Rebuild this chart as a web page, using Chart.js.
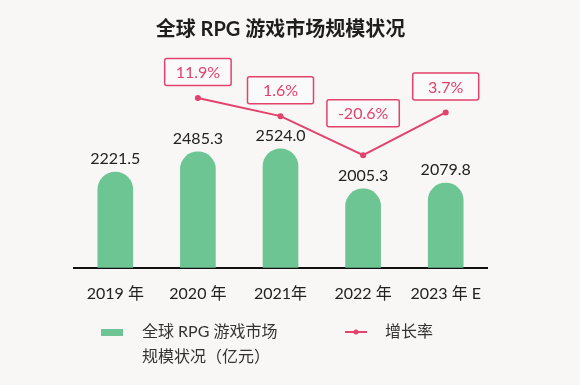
<!DOCTYPE html>
<html>
<head>
<meta charset="utf-8">
<script src="https://cdn.jsdelivr.net/npm/chart.js@4.4.0/dist/chart.umd.min.js"></script>
<style>
  html, body { margin: 0; padding: 0; background: #f8f7f5; }
  #wrap { width: 580px; height: 385px; }
</style>
</head>
<body>
<div id="wrap"><canvas id="chart" width="580" height="385"></canvas></div>
<script>
const years = ['2019 年', '2020 年', '2021年', '2022 年', '2023 年 E'];
const marketSize = [2221.5, 2485.3, 2524.0, 2005.3, 2079.8];
const growthRate = [null, 11.9, 1.6, -20.6, 3.7];

const sizeLabel = ['全球 RPG 游戏市场', '规模状况（亿元）'];
const rateLabel = '增长率';

const GREEN = '#6cc592';
const PINK = '#e2426b';
const FONT = "Lato, 'Noto Sans CJK SC', sans-serif";

// value text over bars + boxed percentages over line points
const labelsPlugin = {
  id: 'labels',
  afterDatasetsDraw(chart) {
    const ctx = chart.ctx;
    ctx.save();
    ctx.textAlign = 'center';
    ctx.textBaseline = 'middle';

    const bars = chart.getDatasetMeta(0).data;
    ctx.font = '16px ' + FONT;
    ctx.fillStyle = '#222';
    bars.forEach((b, i) => {
      ctx.fillText(marketSize[i].toFixed(1), b.x, b.y - 13);
    });

    const pts = chart.getDatasetMeta(1).data;
    pts.forEach((p, i) => {
      if (growthRate[i] === null) return;
      const txt = growthRate[i].toFixed(1) + '%';
      const w = Math.max(66, ctx.measureText(txt).width + 22);
      const h = 27;
      // negative values sit in a dip, so lift the box clear of the line
      const cy = p.y - (growthRate[i] < 0 ? 42 : 26);
      ctx.fillStyle = '#fbfafa';
      ctx.strokeStyle = PINK;
      ctx.lineWidth = 1.5;
      ctx.beginPath();
      ctx.roundRect(p.x - w / 2, cy - h / 2, w, h, 2);
      ctx.fill();
      ctx.stroke();
      ctx.fillStyle = PINK;
      ctx.fillText(txt, p.x, cy + 1);
    });
    ctx.restore();
  }
};

// legend at the bottom
const legendPlugin = {
  id: 'customLegend',
  afterDraw(chart) {
    const ctx = chart.ctx;
    ctx.save();
    ctx.font = '16px ' + FONT;
    ctx.textBaseline = 'middle';
    ctx.textAlign = 'left';
    ctx.fillStyle = GREEN;
    ctx.fillRect(101, 329, 22, 7);
    ctx.fillStyle = '#333';
    ctx.fillText(sizeLabel[0], 142, 332);
    ctx.fillText(sizeLabel[1], 142, 357);

    ctx.strokeStyle = PINK;
    ctx.lineWidth = 2;
    ctx.beginPath();
    ctx.moveTo(345, 332);
    ctx.lineTo(367, 332);
    ctx.stroke();
    ctx.fillStyle = PINK;
    ctx.beginPath();
    ctx.arc(356, 332, 2.5, 0, Math.PI * 2);
    ctx.fill();
    ctx.fillStyle = '#333';
    ctx.fillText(rateLabel, 385, 332);
    ctx.restore();
  }
};

new Chart(document.getElementById('chart').getContext('2d'), {
  data: {
    labels: years,
    datasets: [
      {
        type: 'bar',
        label: sizeLabel.join(''),
        data: marketSize,
        backgroundColor: GREEN,
        barThickness: 35,
        borderRadius: { topLeft: 17.5, topRight: 17.5, bottomLeft: 0, bottomRight: 0 },
        borderSkipped: 'bottom',
        yAxisID: 'y',
        order: 2
      },
      {
        type: 'line',
        label: rateLabel,
        data: growthRate,
        borderColor: PINK,
        backgroundColor: PINK,
        borderWidth: 2,
        pointRadius: 3,
        pointBorderWidth: 0,
        tension: 0,
        yAxisID: 'y1',
        order: 1
      }
    ]
  },
  options: {
    responsive: false,
    animation: false,
    layout: { padding: { left: 74, right: 93, top: 0, bottom: 66 } },
    plugins: {
      legend: { display: false },
      tooltip: { enabled: false },
      title: {
        display: true,
        text: '全球 RPG 游戏市场规模状况',
        color: '#1e1e1e',
        font: { family: FONT, size: 20, weight: 'bold' },
        padding: { top: 18, bottom: 2 }
      }
    },
    scales: {
      x: {
        grid: { display: false, drawTicks: false },
        border: { display: true, color: '#111', width: 2 },
        ticks: { color: '#222', font: { family: FONT, size: 16 }, padding: 16, maxRotation: 0 }
      },
      y: { display: false, min: 980, max: 3886 },
      y1: { display: false, min: -84.6, max: 42.6 }
    }
  },
  plugins: [labelsPlugin, legendPlugin]
});
</script>
</body>
</html>
